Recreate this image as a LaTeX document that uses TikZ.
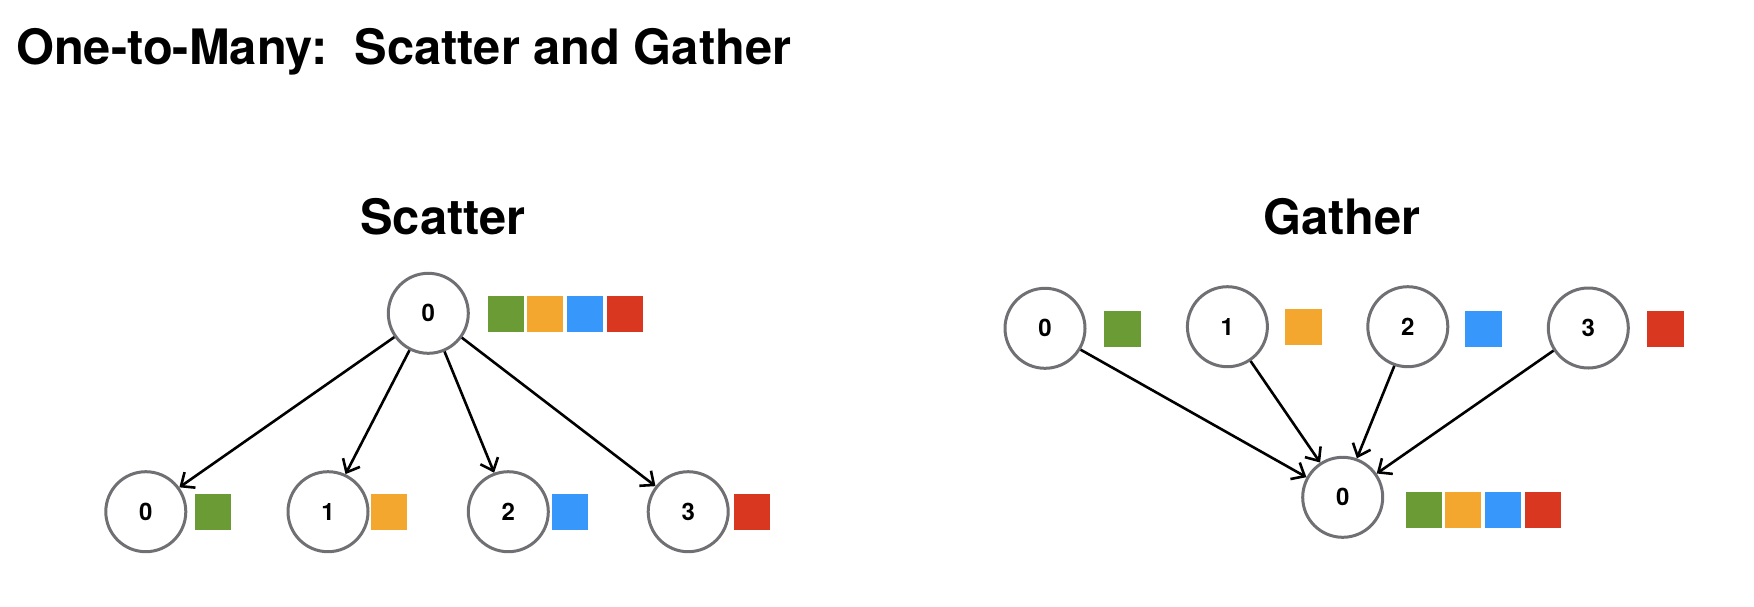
\documentclass[tikz,border=0pt]{standalone}
\usepackage{fontspec}
\setmainfont{TeX Gyre Heros}
\usetikzlibrary{arrows.meta}
\definecolor{cgreen}{RGB}{107,155,52}
\definecolor{corange}{RGB}{243,167,47}
\definecolor{cblue}{RGB}{56,151,250}
\definecolor{cred}{RGB}{217,55,31}
\definecolor{cring}{RGB}{112,112,116}
\tikzset{
  proc/.style={circle, draw=cring, line width=3pt, fill=white, minimum size=80pt, inner sep=0pt,
    font=\fontsize{24}{28}\selectfont\bfseries},
  blk/.style={rectangle, inner sep=0pt, minimum width=36pt, minimum height=36pt, fill=#1},
  blkw/.style={rectangle, inner sep=0pt, minimum width=37pt, minimum height=36pt, fill=#1},
  heading/.style={font=\fontsize{48.8}{58}\selectfont\bfseries, inner sep=0pt},
  msg/.style={line width=2.6pt, -{Straight Barb[length=11pt,width=19pt,line width=2.6pt]}}
}
\begin{document}
\begin{tikzpicture}[x=1pt,y=-1pt]
\useasboundingbox (0,0) rectangle (1754,606);
% title and headings
\node[heading, anchor=base west] (title) at (16,64) {One-to-Many:\ \ Scatter and Gather};
\node[heading, anchor=base] (hs) at (443,234) {Scatter};
\node[heading, anchor=base] (hg) at (1342,234) {Gather};
% scatter
\node[proc] (S) at (428.3,313.3) {0};
\node[blk=cgreen]  (s1) at (505.5,314.2) {};
\node[blk=corange] (s2) at (545.2,314.2) {};
\node[blk=cblue]   (s3) at (585,314.2) {};
\node[blk=cred]    (s4) at (624.7,314.2) {};
\node[proc] (b0) at (145.8,511.7) {0};
\node[proc] (b1) at (328,511.7) {1};
\node[proc] (b2) at (508.3,511.7) {2};
\node[proc] (b3) at (688.2,511.7) {3};
\node[blk=cgreen]  (q0) at (212.8,512) {};
\node[blk=corange] (q1) at (389,512) {};
\node[blk=cblue]   (q2) at (570.3,512) {};
\node[blk=cred]    (q3) at (751.6,512) {};
\draw[msg] (S.215) -- (b0.36);
\draw[msg] (S.243) -- (b1.65);
\draw[msg] (S.293) -- (b2.110);
\draw[msg] (S.324) -- (b3.142);
% gather
\node[proc] (g0) at (1045,328.3) {0};
\node[proc] (g1) at (1227.4,326.7) {1};
\node[proc] (g2) at (1407.8,326.7) {2};
\node[proc] (g3) at (1588.3,328) {3};
\node[blkw=cgreen]  (r0) at (1122.7,329) {};
\node[blkw=corange] (r1) at (1303.6,327.2) {};
\node[blkw=cblue]   (r2) at (1483.9,328.5) {};
\node[blkw=cred]    (r3) at (1665,328.5) {};
\node[proc] (G) at (1342.7,497.3) {0};
\node[blk=cgreen]  (t1) at (1423.5,510) {};
\node[blk=corange] (t2) at (1463.2,510) {};
\node[blk=cblue]   (t3) at (1502.9,510) {};
\node[blk=cred]    (t4) at (1542.9,510) {};
\draw[msg] (g0.329) -- (G.151);
\draw[msg] (g1.304) -- (G.123);
\draw[msg] (g2.251) -- (G.70);
\draw[msg] (g3.213) -- (G.35);
\end{tikzpicture}
\end{document}
